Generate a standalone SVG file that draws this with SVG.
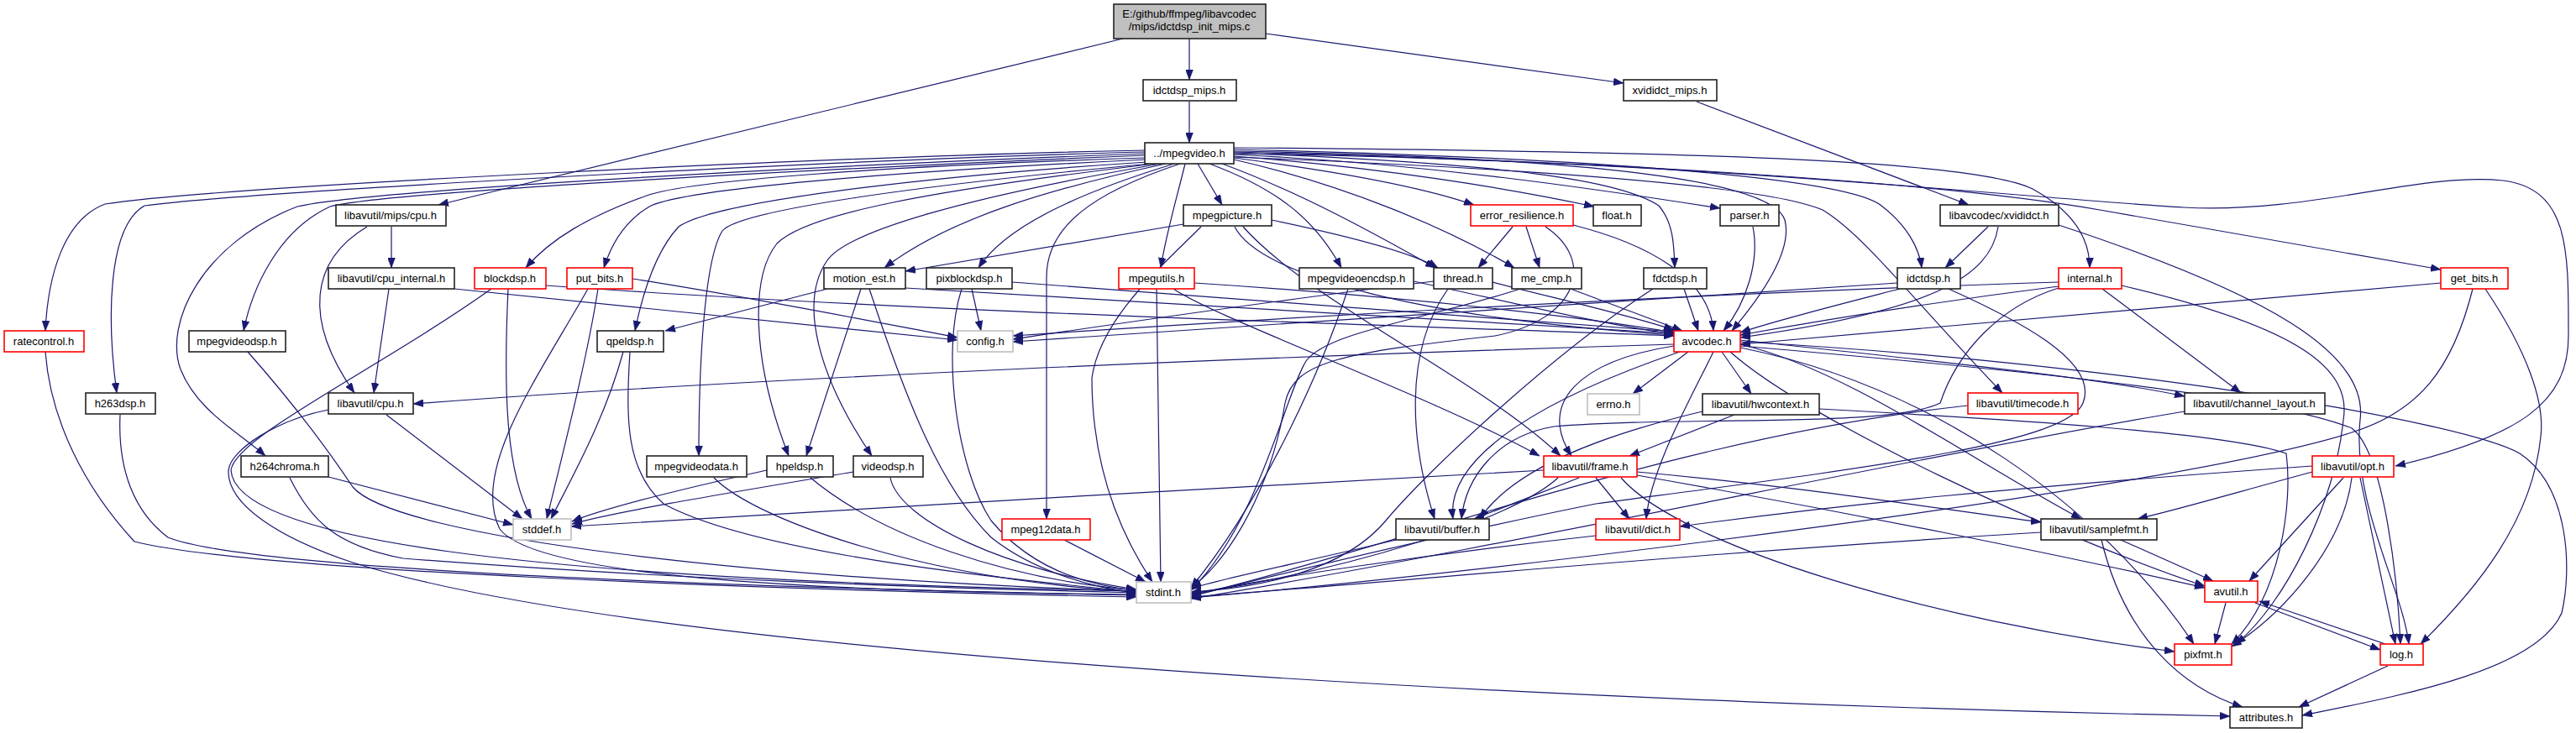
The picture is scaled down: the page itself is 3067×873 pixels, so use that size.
<svg xmlns="http://www.w3.org/2000/svg" width="3067" height="873" viewBox="0 0 3067 873">
<style>
.n rect{fill:#fff;stroke:#222;stroke-width:1.6}
.r rect{fill:#fff;stroke:#f00;stroke-width:1.6}
.g rect{fill:#fff;stroke:#bfbfbf;stroke-width:1.6}
.m rect{fill:#bfbfbf;stroke:#222;stroke-width:1.6}
text{font-family:"Liberation Sans",Arial,sans-serif;font-size:13px;fill:#000;text-anchor:middle}
#edges path{fill:none;stroke:#191970;stroke-width:1.2;marker-end:url(#a)}
</style>
<defs>
<marker id="a" markerWidth="12" markerHeight="9" refX="12" refY="4.5" orient="auto" markerUnits="userSpaceOnUse"><path d="M0,0 L12,4.5 L0,9 z" fill="#191970" stroke="#191970" stroke-width="0.5"/></marker>
</defs>
<rect width="3067" height="873" fill="#fff"/>
<g id="edges">
<path d="M1337,46 L522,244"/>
<path d="M1416,46 L1416,95"/>
<path d="M1507,40 L1933,99"/>
<path d="M1416,121 L1416,170"/>
<path d="M2020,121 L2344,244"/>
<path d="M1363,179 C1000,186 260,222 125,243 C75,262 57,330 54,394"/>
<path d="M1363,181 C1000,190 300,228 172,245 C128,270 127,380 139,468"/>
<path d="M1363,183 C1000,196 440,226 354,246 C240,290 195,385 215,440 C235,490 285,515 316,543"/>
<path d="M1363,185 C1000,200 460,228 393,246 C330,275 300,345 290,394"/>
<path d="M1364,188 C1050,198 820,215 770,233 C700,258 655,285 626,319"/>
<path d="M1365,190 C1050,205 820,225 775,245 C745,262 728,290 719,319"/>
<path d="M1366,193 C1100,210 850,240 808,270 C780,300 765,350 756,394"/>
<path d="M1370,195 C1100,220 880,250 860,275 C838,310 832,440 832,543"/>
<path d="M1375,195 C1100,228 960,255 925,290 C893,330 895,430 939,543"/>
<path d="M1382,195 C1150,235 1010,275 985,310 C950,360 975,450 1038,543"/>
<path d="M1388,195 C1250,225 1130,260 1053,319"/>
<path d="M1398,195 C1300,225 1200,265 1165,319"/>
<path d="M1426,195 L1455,244"/>
<path d="M1411,195 C1400,240 1388,280 1382,319"/>
<path d="M1405,195 C1300,230 1246,270 1246,330 L1246,618"/>
<path d="M1440,195 C1520,225 1565,260 1597,319"/>
<path d="M1455,195 C1550,230 1640,280 1709,319"/>
<path d="M1469,190 C1600,220 1720,270 1803,319"/>
<path d="M1469,188 C1600,205 1700,225 1755,244"/>
<path d="M1469,186 C1650,200 1800,225 1898,246"/>
<path d="M1469,184 C1700,195 1900,225 2048,248"/>
<path d="M1469,182 C1800,195 1930,215 1975,245 C1992,265 1993,290 1994,319"/>
<path d="M1469,180 C1900,188 2110,215 2125,262 C2135,300 2095,355 2062,394"/>
<path d="M1469,178 C1900,188 2200,212 2240,245 C2270,268 2285,295 2288,319"/>
<path d="M1469,176 C2000,180 2350,190 2420,225 C2475,255 2488,290 2488,319"/>
<path d="M1469,181 C1900,192 2300,215 2500,250 L2906,321"/>
<path d="M1469,187 C1800,200 2100,220 2170,250 C2220,280 2280,360 2384,468"/>
<path d="M1469,183 C2000,190 2400,235 2600,247 C2750,255 2880,205 2980,215 C3060,225 3058,300 3058,400 C3058,480 3000,520 2852,555"/>
<path d="M466,270 L466,319"/>
<path d="M437,270 C370,310 360,380 422,468"/>
<path d="M463,344 L445,468"/>
<path d="M541,344 C800,370 1000,390 1140,405"/>
<path d="M605,344 C600,450 600,560 633,618"/>
<path d="M585,344 C450,440 280,520 275,560 C280,640 600,690 1353,704"/>
<path d="M650,340 C1100,372 1600,385 1993,400"/>
<path d="M712,344 C700,420 680,500 651,618"/>
<path d="M700,344 C640,450 560,560 595,630 C640,690 1000,705 1353,708"/>
<path d="M753,332 C900,355 1050,385 1140,402"/>
<path d="M742,419 C720,500 680,570 656,618"/>
<path d="M750,419 C745,500 745,560 790,600 C900,660 1200,690 1353,705"/>
<path d="M985,344 L792,394"/>
<path d="M1025,344 L960,543"/>
<path d="M1035,344 C1080,480 1120,580 1180,640 C1230,680 1300,700 1353,706"/>
<path d="M1078,343 C1500,370 1800,385 1993,397"/>
<path d="M1157,344 L1168,394"/>
<path d="M1145,344 C1120,420 1140,560 1180,620 C1230,680 1300,698 1353,703"/>
<path d="M1205,336 C1550,360 1850,385 1993,395"/>
<path d="M1377,344 L1382,693"/>
<path d="M1422,337 C1700,355 1900,380 1993,396"/>
<path d="M1397,344 C1450,380 1700,470 1833,543"/>
<path d="M1409,267 L1078,323"/>
<path d="M1514,262 C1600,280 1680,300 1712,319"/>
<path d="M1430,270 C1380,320 1310,380 1300,450 C1300,550 1330,630 1372,693"/>
<path d="M1470,270 C1500,330 1700,380 1993,399"/>
<path d="M1480,270 C1560,360 1760,450 1858,543"/>
<path d="M1801,270 L1760,319"/>
<path d="M1817,270 L1833,319"/>
<path d="M1873,268 C1960,290 2035,330 2040,394"/>
<path d="M1840,270 C1900,310 1880,380 1780,400 C1600,420 1540,430 1530,480 C1510,600 1450,680 1418,699"/>
<path d="M2087,270 C2095,310 2080,360 2052,394"/>
<path d="M1605,344 C1570,450 1500,600 1418,700"/>
<path d="M1683,335 C1800,360 1900,385 1993,398"/>
<path d="M1724,344 C1670,420 1680,530 1708,618"/>
<path d="M1777,336 C1850,355 1940,375 1993,393"/>
<path d="M1707,335 C1500,360 1300,390 1206,404"/>
<path d="M1870,344 L2003,394"/>
<path d="M1810,344 C1700,380 1580,395 1555,430 C1530,470 1500,620 1418,703"/>
<path d="M2005,344 L2022,394"/>
<path d="M1968,344 C1850,420 1700,560 1650,620 C1600,680 1500,700 1418,705"/>
<path d="M2259,337 L1206,407"/>
<path d="M2262,344 C2200,360 2120,380 2072,396"/>
<path d="M2320,344 C2400,380 2500,430 2480,480 C2460,530 2200,560 1900,600 C1700,640 1500,690 1418,710"/>
<path d="M2367,270 L2316,319"/>
<path d="M2379,270 C2370,330 2300,370 2072,402"/>
<path d="M2451,268 C2700,350 2820,420 2810,500 C2800,600 2860,700 2868,767"/>
<path d="M2451,336 C2000,350 1500,380 1206,400"/>
<path d="M2451,341 C2300,360 2150,385 2072,399"/>
<path d="M2451,343 C2380,365 2330,420 2310,480 C2250,510 2000,495 1850,508 C1780,520 1745,570 1740,618"/>
<path d="M2503,344 L2668,468"/>
<path d="M2526,340 C2740,390 2800,440 2790,500 C2780,600 2720,720 2662,767"/>
<path d="M2906,337 L2072,410"/>
<path d="M2959,344 C3010,420 3030,480 3025,520 C3015,620 2950,700 2882,767"/>
<path d="M2944,344 C2920,440 2880,490 2800,515 C2600,580 1800,680 1418,712"/>
<path d="M2010,419 L1944,469"/>
<path d="M2050,419 L2085,469"/>
<path d="M1993,410 C1500,425 900,450 492,481"/>
<path d="M1993,412 C1880,430 1830,480 1871,543"/>
<path d="M2000,419 C1850,470 1720,540 1730,618"/>
<path d="M2040,419 C2010,480 1965,560 1960,618"/>
<path d="M2072,410 C2200,440 2350,550 2478,618"/>
<path d="M2072,405 C2300,430 2500,450 2601,472"/>
<path d="M2072,412 C2400,440 2700,470 2800,510 C2840,540 2855,700 2858,767"/>
<path d="M2072,414 C2300,460 2500,600 2612,767"/>
<path d="M2072,407 C2500,430 2930,500 3000,540 C3060,580 3062,680 3050,730 C3020,800 2850,830 2741,852"/>
<path d="M2060,419 C2150,500 2450,640 2625,698"/>
<path d="M1838,560 C1500,580 1000,605 680,627"/>
<path d="M1880,569 L1755,618"/>
<path d="M1900,569 L1940,618"/>
<path d="M1855,569 C1800,620 1600,680 1418,707"/>
<path d="M1949,562 C2150,580 2300,605 2430,622"/>
<path d="M1949,566 C2200,610 2450,660 2625,700"/>
<path d="M1930,569 C2000,650 2300,740 2589,776"/>
<path d="M2065,494 L1940,543"/>
<path d="M2027,490 C1900,520 1800,560 1762,618"/>
<path d="M2166,487 C2400,500 2650,515 2722,540 C2730,600 2715,710 2657,767"/>
<path d="M2343,483 C2000,520 1700,640 1418,710"/>
<path d="M2601,490 C2300,540 1800,650 1418,713"/>
<path d="M2790,569 L2678,692"/>
<path d="M2753,555 C2400,580 2200,600 2000,627"/>
<path d="M2810,569 L2852,767"/>
<path d="M2800,569 C2790,650 2720,730 2657,770"/>
<path d="M2753,562 C2650,590 2600,605 2545,618"/>
<path d="M2525,643 L2635,692"/>
<path d="M2502,643 C2530,760 2600,820 2670,842"/>
<path d="M2430,634 C2000,660 1700,690 1418,711"/>
<path d="M1900,638 C1700,660 1500,690 1418,708"/>
<path d="M1662,643 C1550,670 1450,690 1418,701"/>
<path d="M2650,718 L2637,767"/>
<path d="M2685,718 L2834,774"/>
<path d="M2840,767 L2690,716"/>
<path d="M2843,793 L2737,842"/>
<path d="M143,494 C140,560 160,610 200,640 C300,680 900,700 1353,709"/>
<path d="M54,419 C60,500 100,580 160,645 C300,680 900,702 1353,711"/>
<path d="M295,419 C340,470 380,520 420,580 C470,640 900,690 1353,704"/>
<path d="M391,568 L611,625"/>
<path d="M345,569 C370,620 400,650 480,665 C800,690 1100,700 1353,706"/>
<path d="M460,494 L622,618"/>
<path d="M391,488 C330,500 275,535 272,560 C270,600 330,640 420,670 C800,790 2000,840 2655,853"/>
<path d="M850,569 C900,620 1100,690 1353,705"/>
<path d="M913,560 C800,585 720,605 681,621"/>
<path d="M965,569 C1050,640 1200,690 1353,703"/>
<path d="M1016,562 C850,590 730,610 681,624"/>
<path d="M1060,569 C1070,620 1200,680 1353,702"/>
<path d="M1267,643 L1364,693"/>
</g>
<g id="n-main" class="m"><rect x="1326" y="5" width="181" height="41"/><text x="1416" y="21">E:/github/ffmpeg/libavcodec</text><text x="1416" y="36">/mips/idctdsp_init_mips.c</text></g>
<g id="n-idctdsp_mips" class="n"><rect x="1361" y="95" width="111" height="25"/><text x="1416" y="112">idctdsp_mips.h</text></g>
<g id="n-xvididct_mips" class="n"><rect x="1933" y="95" width="111" height="25"/><text x="1988" y="112">xvididct_mips.h</text></g>
<g id="n-mpegvideo" class="n"><rect x="1363" y="170" width="106" height="25"/><text x="1416" y="187">../mpegvideo.h</text></g>
<g id="n-mipscpu" class="n"><rect x="400" y="244" width="131" height="25"/><text x="465" y="261">libavutil/mips/cpu.h</text></g>
<g id="n-mpegpicture" class="n"><rect x="1409" y="244" width="105" height="25"/><text x="1461" y="261">mpegpicture.h</text></g>
<g id="n-error_resilience" class="r"><rect x="1751" y="244" width="122" height="25"/><text x="1812" y="261">error_resilience.h</text></g>
<g id="n-float" class="n"><rect x="1897" y="244" width="57" height="25"/><text x="1925" y="261">float.h</text></g>
<g id="n-parser" class="n"><rect x="2048" y="244" width="70" height="25"/><text x="2083" y="261">parser.h</text></g>
<g id="n-xvididct" class="n"><rect x="2310" y="244" width="141" height="25"/><text x="2380" y="261">libavcodec/xvididct.h</text></g>
<g id="n-cpu_internal" class="n"><rect x="391" y="319" width="150" height="25"/><text x="466" y="336">libavutil/cpu_internal.h</text></g>
<g id="n-blockdsp" class="r"><rect x="565" y="319" width="85" height="25"/><text x="607" y="336">blockdsp.h</text></g>
<g id="n-put_bits" class="r"><rect x="675" y="319" width="78" height="25"/><text x="714" y="336">put_bits.h</text></g>
<g id="n-motion_est" class="n"><rect x="981" y="319" width="97" height="25"/><text x="1029" y="336">motion_est.h</text></g>
<g id="n-pixblockdsp" class="n"><rect x="1103" y="319" width="102" height="25"/><text x="1154" y="336">pixblockdsp.h</text></g>
<g id="n-mpegutils" class="r"><rect x="1332" y="319" width="90" height="25"/><text x="1377" y="336">mpegutils.h</text></g>
<g id="n-mpegvideoencdsp" class="n"><rect x="1547" y="319" width="136" height="25"/><text x="1615" y="336">mpegvideoencdsp.h</text></g>
<g id="n-thread" class="n"><rect x="1707" y="319" width="70" height="25"/><text x="1742" y="336">thread.h</text></g>
<g id="n-me_cmp" class="n"><rect x="1800" y="319" width="83" height="25"/><text x="1841" y="336">me_cmp.h</text></g>
<g id="n-fdctdsp" class="n"><rect x="1957" y="319" width="75" height="25"/><text x="1994" y="336">fdctdsp.h</text></g>
<g id="n-idctdsp" class="n"><rect x="2259" y="319" width="75" height="25"/><text x="2296" y="336">idctdsp.h</text></g>
<g id="n-internal" class="r"><rect x="2451" y="319" width="75" height="25"/><text x="2488" y="336">internal.h</text></g>
<g id="n-get_bits" class="r"><rect x="2906" y="319" width="80" height="25"/><text x="2946" y="336">get_bits.h</text></g>
<g id="n-ratecontrol" class="r"><rect x="5" y="394" width="95" height="25"/><text x="52" y="411">ratecontrol.h</text></g>
<g id="n-mpegvideodsp" class="n"><rect x="225" y="394" width="115" height="25"/><text x="282" y="411">mpegvideodsp.h</text></g>
<g id="n-qpeldsp" class="n"><rect x="711" y="394" width="79" height="25"/><text x="750" y="411">qpeldsp.h</text></g>
<g id="n-config" class="g"><rect x="1140" y="394" width="66" height="25"/><text x="1173" y="411">config.h</text></g>
<g id="n-avcodec" class="r"><rect x="1993" y="394" width="79" height="25"/><text x="2032" y="411">avcodec.h</text></g>
<g id="n-h263dsp" class="n"><rect x="102" y="468" width="83" height="25"/><text x="143" y="485">h263dsp.h</text></g>
<g id="n-cpu" class="n"><rect x="391" y="468" width="101" height="25"/><text x="441" y="485">libavutil/cpu.h</text></g>
<g id="n-errno" class="g"><rect x="1890" y="469" width="62" height="25"/><text x="1921" y="486">errno.h</text></g>
<g id="n-hwcontext" class="n"><rect x="2027" y="469" width="139" height="25"/><text x="2096" y="486">libavutil/hwcontext.h</text></g>
<g id="n-timecode" class="r"><rect x="2343" y="468" width="131" height="25"/><text x="2408" y="485">libavutil/timecode.h</text></g>
<g id="n-channel_layout" class="n"><rect x="2601" y="468" width="167" height="25"/><text x="2684" y="485">libavutil/channel_layout.h</text></g>
<g id="n-h264chroma" class="n"><rect x="287" y="543" width="104" height="25"/><text x="339" y="560">h264chroma.h</text></g>
<g id="n-mpegvideodata" class="n"><rect x="770" y="543" width="119" height="25"/><text x="829" y="560">mpegvideodata.h</text></g>
<g id="n-hpeldsp" class="n"><rect x="913" y="543" width="79" height="25"/><text x="952" y="560">hpeldsp.h</text></g>
<g id="n-videodsp" class="n"><rect x="1016" y="543" width="83" height="25"/><text x="1057" y="560">videodsp.h</text></g>
<g id="n-frame" class="r"><rect x="1838" y="543" width="111" height="25"/><text x="1893" y="560">libavutil/frame.h</text></g>
<g id="n-opt" class="r"><rect x="2753" y="543" width="97" height="25"/><text x="2801" y="560">libavutil/opt.h</text></g>
<g id="n-stddef" class="g"><rect x="611" y="618" width="69" height="25"/><text x="645" y="635">stddef.h</text></g>
<g id="n-buffer" class="n"><rect x="1662" y="618" width="111" height="25"/><text x="1717" y="635">libavutil/buffer.h</text></g>
<g id="n-dict" class="r"><rect x="1900" y="618" width="100" height="25"/><text x="1950" y="635">libavutil/dict.h</text></g>
<g id="n-samplefmt" class="n"><rect x="2430" y="618" width="138" height="25"/><text x="2499" y="635">libavutil/samplefmt.h</text></g>
<g id="n-mpeg12data" class="r"><rect x="1193" y="618" width="105" height="25"/><text x="1245" y="635">mpeg12data.h</text></g>
<g id="n-stdint" class="g"><rect x="1353" y="693" width="65" height="25"/><text x="1385" y="710">stdint.h</text></g>
<g id="n-avutil" class="r"><rect x="2625" y="692" width="63" height="25"/><text x="2656" y="709">avutil.h</text></g>
<g id="n-pixfmt" class="r"><rect x="2589" y="767" width="68" height="25"/><text x="2623" y="784">pixfmt.h</text></g>
<g id="n-log" class="r"><rect x="2834" y="767" width="51" height="25"/><text x="2859" y="784">log.h</text></g>
<g id="n-attributes" class="n"><rect x="2655" y="842" width="86" height="25"/><text x="2698" y="859">attributes.h</text></g>
</svg>
